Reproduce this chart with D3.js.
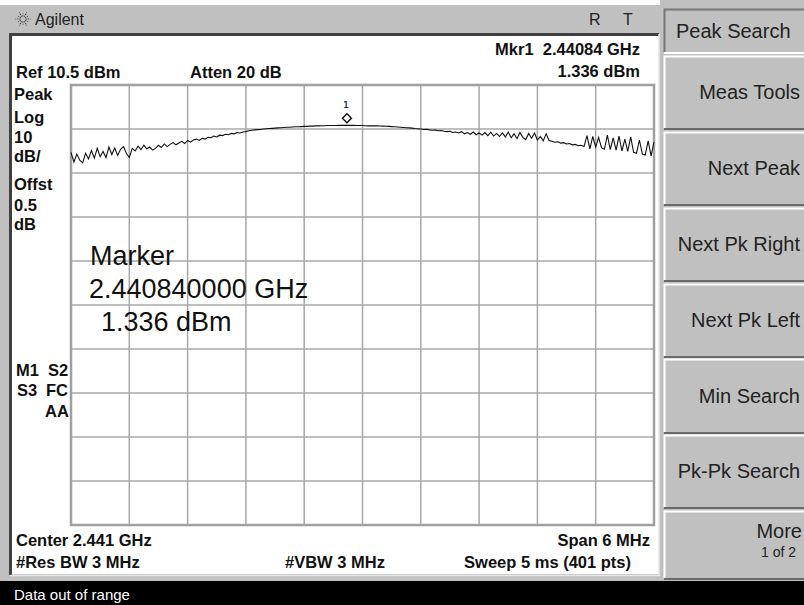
<!DOCTYPE html>
<html>
<head>
<meta charset="utf-8">
<script src="https://cdn.jsdelivr.net/npm/d3@7"></script>
<style>
	body { margin: 0; padding: 0; background: #fff; }
	svg { display: block; font-family: "Liberation Sans", Arial, sans-serif; }
</style>
</head>
<body>
<svg id="chart" width="804" height="605"></svg>
<script>
// sweep settings
var CENTER_GHZ = 2.441;
var SPAN_GHZ = 0.006;
var REF_DBM = 10.5;
var DB_PER_DIV = 10;
var DIVS = 10;

var markerFreqGHz = 2.44084;
var markerDbm = 1.336;

// trace (201 pts across the span)
var traceDbm = [
	-4.8, -7.0, -5.2, -6.6, -7.2, -5.0, -6.3, -4.4, -6.1, -3.9,
	-5.8, -4.6, -6.0, -3.6, -5.3, -3.8, -5.5, -4.1, -3.5, -5.0,
	-6.0, -3.9, -4.5, -3.4, -4.2, -3.2, -4.0, -3.6, -4.3, -3.9,
	-3.2, -3.7, -2.9, -3.5, -3.0, -2.6, -3.1, -2.7, -2.3, -2.8,
	-2.1, -2.5, -2.0, -1.8, -2.1, -1.6, -1.8, -1.4, -1.5, -1.1,
	-1.3, -0.9, -1.0, -0.7, -0.8, -0.5, -0.6, -0.3, -0.4, -0.2,
	-0.1, 0.1, 0.2, 0.3, 0.35, 0.4, 0.5, 0.55, 0.6, 0.65,
	0.7, 0.75, 0.8, 0.85, 0.9, 0.9, 0.95, 1.0, 1.0, 1.05,
	1.1, 1.1, 1.15, 1.15, 1.2, 1.2, 1.25, 1.25, 1.28, 1.28,
	1.3, 1.3, 1.32, 1.32, 1.336, 1.33, 1.32, 1.32, 1.3, 1.3,
	1.28, 1.25, 1.2, 1.25, 1.22, 1.2, 1.18, 1.15, 1.12, 1.1,
	1.05, 1.0, 0.95, 0.9, 0.85, 0.8, 0.75, 0.7, 0.6, 0.55,
	0.5, 0.4, 0.45, 0.3, 0.2, 0.25, 0.1, 0.15, 0.0, -0.1,
	0.0, -0.3, -0.2, -0.4, -0.1, -0.6, -0.3, -0.7, -0.2, -0.8,
	-0.4, -0.9, -0.3, -1.0, -0.2, -1.1, -0.5, -1.2, -0.4, -1.3,
	-0.2, -1.5, -0.6, -1.7, -0.3, -1.4, -1.9, -0.5, -1.6, -0.4,
	-2.0, -1.2, -2.2, -0.6, -2.1, -2.3, -2.5, -2.4, -2.7, -2.6,
	-2.9, -2.8, -3.1, -3.0, -3.3, -3.2, -3.5, -1.0, -4.0, -1.2,
	-3.6, -1.4, -3.8, -4.1, -0.9, -4.2, -1.5, -4.3, -1.1, -4.5,
	-1.8, -4.6, -1.3, -4.8, -5.0, -2.0, -5.2, -5.4, -2.2, -5.6,
	-2.5
];

var leftLabels = ["Peak", "Log", "10", "dB/", "Offst", "0.5", "dB"];
var leftLabelY = [100, 123, 143, 162, 190, 211, 230];

var softKeys = ["Peak Search", "Meas Tools", "Next Peak", "Next Pk Right", "Next Pk Left", "Min Search", "Pk-Pk Search", "More"];

var svg = d3.select("#chart");

var plot = { left: 71, right: 654, top: 85, bottom: 525 };

// --- frame ---
svg.append("rect").attr("x", 0).attr("y", 5).attr("width", 663).attr("height", 577).attr("fill", "#c0c0c0");
svg.append("rect").attr("x", 9).attr("y", 33).attr("width", 650).attr("height", 3).attr("fill", "#404040");
svg.append("rect").attr("x", 9).attr("y", 33).attr("width", 3).attr("height", 542).attr("fill", "#404040");
svg.append("rect").attr("x", 12).attr("y", 36).attr("width", 647).attr("height", 538).attr("fill", "#fff");
svg.append("line").attr("x1", 659).attr("y1", 34).attr("x2", 659).attr("y2", 576).attr("stroke", "#e8e8e8").attr("stroke-width", 1.5);
svg.append("line").attr("x1", 10).attr("y1", 575.5).attr("x2", 660).attr("y2", 575.5).attr("stroke", "#e8e8e8").attr("stroke-width", 1.5);

// status bar
svg.append("rect").attr("x", 0).attr("y", 581).attr("width", 804).attr("height", 24).attr("fill", "#000");
svg.append("text").attr("x", 14).attr("y", 600).attr("fill", "#fff").attr("font-size", 15).text("Data out of range");

// title bar
var logo = svg.append("g").attr("transform", "translate(23,19)").attr("stroke", "#444").attr("stroke-width", 1.1);
for (var a = 0; a < 12; a++) {
	var ang = a * Math.PI / 6;
	logo.append("line")
		.attr("x1", Math.cos(ang) * 2.5).attr("y1", Math.sin(ang) * 2.5)
		.attr("x2", Math.cos(ang) * (a % 2 ? 5.5 : 7.5)).attr("y2", Math.sin(ang) * (a % 2 ? 5.5 : 7.5))
		.attr("stroke-dasharray", "1.2,1");
}
svg.append("text").attr("x", 35).attr("y", 25).attr("font-size", 16).attr("fill", "#222").text("Agilent");
svg.append("text").attr("x", 589).attr("y", 25).attr("font-size", 16).attr("fill", "#222").text("R");
svg.append("text").attr("x", 623).attr("y", 25).attr("font-size", 16).attr("fill", "#222").text("T");

// --- soft keys ---
var keyTop = [9, 56, 132, 208, 284, 359, 435, 511];
var keyBot = [52, 128, 204, 280, 356, 432, 507, 578];
svg.append("rect").attr("x", 660).attr("y", 0).attr("width", 144).attr("height", 581).attr("fill", "#c0c0c0");
for (var k = 0; k < softKeys.length; k++) {
	var kg = svg.append("g");
	kg.append("rect").attr("x", 664).attr("y", keyTop[k]).attr("width", 150).attr("height", keyBot[k] - keyTop[k])
		.attr("fill", "#c0c0c0").attr("stroke", "none");
	kg.append("path")
		.attr("d", "M664.5," + keyBot[k] + "V" + (keyTop[k] + 0.5) + "H804")
		.attr("fill", "none").attr("stroke", k === 0 ? "#777" : "#fff").attr("stroke-width", 2);
	kg.append("path")
		.attr("d", "M664," + (keyBot[k] + 1) + "H804")
		.attr("fill", "none").attr("stroke", k === 0 ? "#fff" : "#6a6a6a").attr("stroke-width", 2);
	if (k === 0) {
		kg.append("text").attr("x", 676).attr("y", 38).attr("font-size", 20).attr("fill", "#222").text(softKeys[k]);
	} else if (k === softKeys.length - 1) {
		kg.append("text").attr("x", 802).attr("y", 538).attr("text-anchor", "end").attr("font-size", 20).attr("fill", "#222").text(softKeys[k]);
		kg.append("text").attr("x", 796).attr("y", 557).attr("text-anchor", "end").attr("font-size", 14).attr("fill", "#222").text("1 of 2");
	} else {
		kg.append("text").attr("x", 800).attr("y", (keyTop[k] + keyBot[k]) / 2 + 7).attr("text-anchor", "end")
			.attr("font-size", 20).attr("fill", "#222").text(softKeys[k]);
	}
}

// --- scales ---
var x = d3.scaleLinear()
	.domain([CENTER_GHZ - SPAN_GHZ / 2, CENTER_GHZ + SPAN_GHZ / 2])
	.range([plot.left, plot.right]);

var y = d3.scaleLinear()
	.domain([REF_DBM - DIVS * DB_PER_DIV, REF_DBM])
	.range([plot.bottom, plot.top]);

// graticule
var grid = svg.append("g").attr("stroke", "#a8a8a8").attr("stroke-width", 1.5);
var gx = d3.range(DIVS + 1).map(function(i) { return x.domain()[0] + i * SPAN_GHZ / DIVS; });
var gy = d3.range(DIVS + 1).map(function(i) { return REF_DBM - i * DB_PER_DIV; });
grid.selectAll("line.v").data(gx).enter().append("line")
	.attr("class", "v")
	.attr("x1", function(d) { return x(d); }).attr("x2", function(d) { return x(d); })
	.attr("y1", plot.top).attr("y2", plot.bottom);
grid.selectAll("line.h").data(gy).enter().append("line")
	.attr("class", "h")
	.attr("y1", function(d) { return y(d); }).attr("y2", function(d) { return y(d); })
	.attr("x1", plot.left).attr("x2", plot.right);
grid.append("rect").attr("x", plot.left).attr("y", plot.top)
	.attr("width", plot.right - plot.left).attr("height", plot.bottom - plot.top)
	.attr("fill", "none").attr("stroke-width", 2.5).attr("stroke", "#a0a0a0");

// trace
var step = SPAN_GHZ / (traceDbm.length - 1);
var line = d3.line()
	.x(function(d, i) { return x(x.domain()[0] + i * step); })
	.y(function(d) { return y(d); });
svg.append("path").datum(traceDbm)
	.attr("d", line)
	.attr("fill", "none").attr("stroke", "#111").attr("stroke-width", 1.1);

// marker
var mx = x(markerFreqGHz), my = y(markerDbm) - 7;
svg.append("path")
	.attr("d", "M" + mx + "," + (my - 4.5) + "L" + (mx + 4.5) + "," + my + "L" + mx + "," + (my + 4.5) + "L" + (mx - 4.5) + "," + my + "Z")
	.attr("fill", "#fff").attr("stroke", "#111").attr("stroke-width", 1.4);
svg.append("text").attr("x", mx - 1).attr("y", my - 10).attr("text-anchor", "middle")
	.attr("font-size", 9).attr("font-weight", "bold").attr("font-family", "DejaVu Sans Mono, monospace").attr("fill", "#234").text("1");

// header/footer annotations
var bold = { "font-size": 16.5, "font-weight": "bold", "fill": "#111" };
function ann(tx, ty, str, anchor) {
	var t = svg.append("text").attr("x", tx).attr("y", ty).attr("text-anchor", anchor || "start").text(str);
	for (var k in bold) t.attr(k, bold[k]);
	return t;
}
ann(640, 55, "Mkr1  2.44084 GHz", "end").style("white-space", "pre");
ann(640, 77, "1.336 dBm", "end");
ann(16, 78, "Ref 10.5 dBm");
ann(190, 78, "Atten 20 dB");
for (var i = 0; i < leftLabels.length; i++) {
	ann(14, leftLabelY[i], leftLabels[i]);
}
ann(16, 376, "M1"); ann(48, 376, "S2");
ann(17, 396, "S3"); ann(46, 396, "FC");
ann(45, 417, "AA");
ann(16, 546, "Center 2.441 GHz");
ann(650, 546, "Span 6 MHz", "end");
ann(16, 568, "#Res BW 3 MHz");
ann(285, 568, "#VBW 3 MHz");
ann(631, 568, "Sweep 5 ms (401 pts)", "end");

// marker readout
var big = svg.append("g").attr("font-size", 27).attr("fill", "#111");
big.append("text").attr("x", 90).attr("y", 265).text("Marker");
big.append("text").attr("x", 89).attr("y", 298).text("2.440840000 GHz");
big.append("text").attr("x", 101).attr("y", 331).text("1.336 dBm");
</script>
</body>
</html>
